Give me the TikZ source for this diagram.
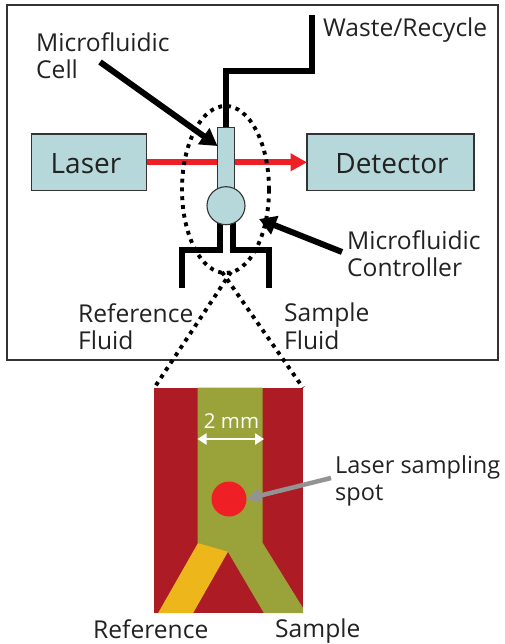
\documentclass[tikz,border=0pt]{standalone}
\usepackage{fontspec}
\setmainfont{Open Sans}
\usetikzlibrary{arrows.meta,shapes.geometric}
\definecolor{boxfill}{HTML}{B7D8DA}
\definecolor{laserred}{HTML}{EE1F25}
\definecolor{darkred}{HTML}{AD1C25}
\definecolor{chgreen}{HTML}{9AA33A}
\definecolor{chyellow}{HTML}{EDB71C}
\definecolor{frameg}{HTML}{333333}
\definecolor{txt}{HTML}{222222}
\tikzset{
  x=1pt,y=-1pt,
  unitbox/.style={draw=frameg,line width=1.1pt,fill=boxfill,inner sep=0pt,outer sep=0pt},
  pipe/.style={draw=black,line width=6pt,miter limit=10},
  blackarrow/.style={draw=black,line width=6pt,-{Triangle[length=17pt,width=19pt]}},
  dots/.style={draw=black,line width=3.9pt,dash pattern=on 3.9pt off 4.9pt},
  lbl/.style={font=\fontsize{24.6}{27.7}\selectfont,text=txt,align=left,inner sep=0pt,anchor=north west},
  boxlbl/.style={font=\fontsize{28}{30}\selectfont,text=txt,inner sep=0pt},
}
\begin{document}
\begin{tikzpicture}
\useasboundingbox (0,0) rectangle (505,644);
\node[draw=frameg,line width=1.3pt,minimum width=491pt,minimum height=355pt,inner sep=0pt,outer sep=0pt] (frame) at (252.5,182.5) {};
% pipes
\coordinate (wasteend) at (312,15);
\coordinate (wastecorner) at (312,71);
\coordinate (cellcorner) at (226,71);
\node[unitbox,minimum width=16.5pt,minimum height=61pt] (cell) at (226,158) {};
\draw[pipe] (cell.north) -- (cellcorner) -- (wastecorner) -- (wasteend);
\coordinate (refend) at (181.5,288);
\coordinate (refcorner) at (181.5,250);
\coordinate (refup) at (219.5,250);
\coordinate (refjoin) at (219.5,222);
\coordinate (samend) at (269,288);
\coordinate (samcorner) at (269,250);
\coordinate (samup) at (233,250);
\coordinate (samjoin) at (233,222);
\draw[pipe] (refend) -- (refcorner) -- (refup) -- (refjoin);
\draw[pipe] (samend) -- (samcorner) -- (samup) -- (samjoin);
% boxes
\node[unitbox,minimum width=115.5pt,minimum height=56.5pt] (laser) at (88.8,162.3) {};
\node[unitbox,minimum width=167pt,minimum height=56.5pt] (detector) at (390.5,162.3) {};
\node[boxlbl] at (86,164) {Laser};
\node[boxlbl] at (392,164) {Detector};
% beam
\draw[draw=laserred,line width=6pt,-{Triangle[length=16.5pt,width=17pt]}] (laser.east) -- (detector.west);
\node[unitbox,minimum width=16.5pt,minimum height=61pt] at (226,158) {};
\node[unitbox,circle,minimum size=38pt] (chamber) at (226,205.7) {};
% ellipse
\node[dots,ellipse,minimum width=87pt,minimum height=167pt,inner sep=0pt] (zone) at (225.5,189.5) {};
\coordinate (zoneA) at (222,272);
\coordinate (zoneB) at (231,272);
% arrows
\coordinate (cellfrom) at (100,62);
\coordinate (celltip) at (217.5,146);
\draw[blackarrow] (cellfrom) -- (celltip);
\coordinate (ctrlfrom) at (342,252);
\coordinate (ctrltip) at (259,219);
\draw[blackarrow] (ctrlfrom) -- (ctrltip);
% labels
\node[lbl] (wastelbl) at (323,18) {Waste/Recycle};
\node[lbl] (celllbl) at (36,32) {Microfluidic\\Cell};
\node[lbl] (ctrllbl) at (347,230) {Microfluidic\\Controller};
\node[lbl] (reflbl) at (78,303) {Reference\\Fluid};
\node[lbl] (samlbl) at (284,303) {Sample\\Fluid};
% inset
\node[fill=darkred,minimum width=148.7pt,minimum height=225.5pt,inner sep=0pt,outer sep=0pt] (inset) at (228.65,500.5) {};
\fill[chgreen] (197.7,387.7) -- (262.7,387.7) -- (262.7,543) -- (303,608) -- (303,613.2) -- (264,613.2) -- (228,552) -- (197.7,543) -- cycle;
\fill[chyellow] (198,543) -- (228,551.7) -- (193,613.2) -- (158,613.2) -- cycle;
\draw[dots] (zoneA) -- (inset.north east);
\draw[dots] (zoneB) -- (inset.north west);
\node[circle,fill=laserred,minimum size=35pt,inner sep=0pt,outer sep=0pt] (spot) at (229,499) {};
\coordinate (spanL) at (197.5,439);
\coordinate (spanR) at (264,439);
\draw[draw=white,line width=2.2pt,{Triangle[length=9pt,width=11pt]}-{Triangle[length=9pt,width=11pt]}] (spanL) -- (spanR);
\node[font=\fontsize{20.5}{22}\selectfont,text=white,inner sep=0pt] (mm) at (231.5,421) {2 mm};
\coordinate (greyfrom) at (331,478);
\draw[draw=gray!85,line width=4.5pt,-{Triangle[length=14pt,width=14pt]}] (greyfrom) -- (spot.east);
\node[lbl,font=\fontsize{23.5}{27.7}\selectfont] (spotlbl) at (335,455) {Laser sampling\\spot};
\node[lbl] (inref) at (93,619) {Reference};
\node[lbl] (insam) at (275,619) {Sample};
\end{tikzpicture}
\end{document}
